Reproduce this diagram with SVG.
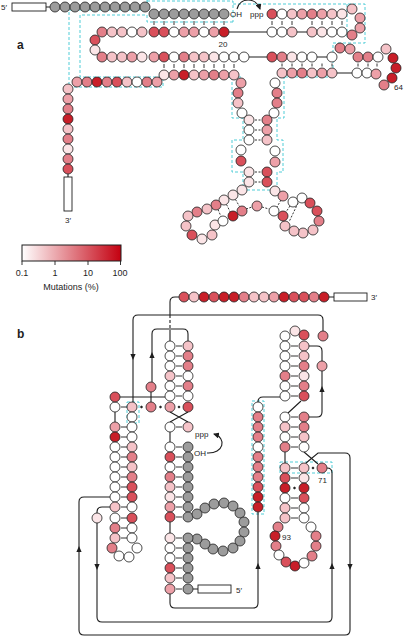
<svg xmlns="http://www.w3.org/2000/svg" width="405" height="637" viewBox="0 0 405 637">
<defs>
<style>
circle{stroke:#1e1e1e;stroke-width:.8}
.w{fill:#fff}.v{fill:#fbe5e7}.l{fill:#f5c3c8}.p{fill:#eda0a8}.m{fill:#e37f89}.d{fill:#d9505b}.r{fill:#c81e28}.g{fill:#9c9c9c}
.ln{fill:none;stroke:#1e1e1e;stroke-width:1.1}
.tk{fill:none;stroke:#1e1e1e;stroke-width:.9}
.ds{fill:none;stroke:#1e1e1e;stroke-width:.9;stroke-dasharray:2 1.5}
.cy{fill:none;stroke:#3cc7d2;stroke-width:.9;stroke-dasharray:3 2}
text{font-family:"Liberation Sans",Arial,sans-serif;fill:#1e1e1e}
.s{font-size:8px}
.lb{font-size:12px;font-weight:bold}
</style>
<linearGradient id="grad" x1="0" x2="1" y1="0" y2="0"><stop offset="0" stop-color="#fff"/><stop offset="1" stop-color="#c40010"/></linearGradient>
<marker id="arr" viewBox="0 0 6 6" refX="5" refY="3" markerWidth="6" markerHeight="6" orient="auto" markerUnits="userSpaceOnUse"><path d="M0,0L6,3L0,6Z" fill="#1e1e1e"/></marker>
<path id="ah" d="M0,0L-2.6,-6L2.6,-6Z" fill="#1e1e1e"/>
</defs>
<rect width="405" height="637" fill="#fff"/>

<!-- ================= PANEL A ================= -->
<g id="panel-a">
<text class="lb" x="17" y="49">a</text>
<g id="a-guides">
<path class="cy" d="M147,0V10H69V87H163V80"/>
<path class="cy" d="M233,22H147V15H80V77H160"/>
<path class="cy" d="M147,1H233V22"/>
<path class="cy" d="M233,4H365V43H333V77"/>
<path class="cy" d="M347,4V38"/>
<path class="cy" d="M228,77H243M280,77H333"/>
<path class="cy" d="M232,77V118H243V140H232V172H243V190H277V172H283V140H277V118H284V77"/>
</g>
<g id="a-connectors">
<path class="ln" d="M46,7H50M229,32H267M297,32H307M249,57H267M317,57H327M337,73H352M68,174V177"/>
<path class="ln" d="M237,9C240,-3 256,-3 260,9" marker-end="url(#arr)"/>
<path class="tk" d="M154,21V25M164,21V25M174,21V25M184,21V25M194,21V25M204,21V25M214,21V25M224,21V25M272,21V25M282,21V25M292,21V25M312,21V25M322,21V25M332,21V25M342,21V25"/>
<path class="tk" d="M164,64V68M174,64V68M184,64V68M194,64V68M204,64V68M214,64V68M224,64V68M234,64V68"/>
<path class="tk" d="M282,63.5V66.5M292,63.5V66.5M302,63.5V66.5M312,63.5V66.5M322,63.5V66.5M332,63.5V66.5M358,63.5V66.5M368,63.5V66.5M377,63.5V66.5"/>
<path class="ds" d="M255,120H261M255,130H261M255,140H261M255,172H261M255,182H261"/>
<path class="ds" d="M235.5,199.5L239.5,206.5M226.5,204.5L230.5,212.5M218,209.5L221,216.5M246,209L252,207M262,207L269,209M281,200L277,207M290,206L286,212M298,203L289,222"/>
</g>
<g id="a-5prime">
<text class="s" x="1" y="10">5′</text>
<rect x="12" y="3" width="34" height="8" fill="#fff" stroke="#1e1e1e" stroke-width=".9"/>
</g>
<g id="a-gray">
<circle class="g" cx="55" cy="7" r="5"/><circle class="g" cx="65" cy="7" r="5"/><circle class="g" cx="75" cy="7" r="5"/><circle class="g" cx="85" cy="7" r="5"/><circle class="g" cx="95" cy="7" r="5"/><circle class="g" cx="105" cy="7" r="5"/><circle class="g" cx="115" cy="7" r="5"/><circle class="g" cx="125" cy="7" r="5"/><circle class="g" cx="135" cy="7" r="5"/><circle class="g" cx="145" cy="7" r="5"/>
<circle class="g" cx="154" cy="14" r="5"/><circle class="g" cx="164" cy="14" r="5"/><circle class="g" cx="174" cy="14" r="5"/><circle class="g" cx="184" cy="14" r="5"/><circle class="g" cx="194" cy="14" r="5"/><circle class="g" cx="204" cy="14" r="5"/><circle class="g" cx="214" cy="14" r="5"/><circle class="g" cx="224" cy="14" r="5"/>
<text class="s" x="230" y="17">OH</text>
<text class="s" x="250" y="17">ppp</text>
</g>
<g id="a-hairpin-left">
<circle class="m" cx="102" cy="32" r="5"/><circle class="l" cx="112" cy="32" r="5"/><circle class="l" cx="122" cy="32" r="5"/><circle class="w" cx="132" cy="32" r="5"/><circle class="l" cx="142" cy="32" r="5"/><circle class="d" cx="154" cy="32" r="5"/><circle class="d" cx="164" cy="32" r="5"/><circle class="w" cx="174" cy="32" r="5"/><circle class="p" cx="184" cy="32" r="5"/><circle class="p" cx="194" cy="32" r="5"/><circle class="w" cx="204" cy="32" r="5"/><circle class="p" cx="214" cy="32" r="5"/><circle class="r" cx="224" cy="32" r="5"/>
<text class="s" x="223" y="47" text-anchor="middle">20</text>
<circle class="d" cx="95" cy="40" r="5"/><circle class="v" cx="95" cy="50" r="5"/>
<circle class="m" cx="102" cy="57" r="5"/><circle class="l" cx="112" cy="57" r="5"/><circle class="l" cx="122" cy="57" r="5"/><circle class="p" cx="132" cy="57" r="5"/><circle class="v" cx="142" cy="57" r="5"/><circle class="p" cx="154" cy="57" r="5"/><circle class="d" cx="164" cy="57" r="5"/><circle class="w" cx="174" cy="57" r="5"/><circle class="m" cx="184" cy="57" r="5"/><circle class="l" cx="194" cy="57" r="5"/><circle class="l" cx="204" cy="57" r="5"/><circle class="v" cx="214" cy="57" r="5"/><circle class="w" cx="224" cy="57" r="5"/><circle class="w" cx="234" cy="57" r="5"/><circle class="w" cx="244" cy="57" r="5"/>
</g>
<g id="a-3prime-tail">
<circle class="v" cx="164" cy="75" r="5"/><circle class="p" cx="174" cy="75" r="5"/><circle class="r" cx="184" cy="75" r="5"/><circle class="l" cx="194" cy="75" r="5"/><circle class="p" cx="204" cy="75" r="5"/><circle class="m" cx="214" cy="75" r="5"/><circle class="p" cx="224" cy="75" r="5"/><circle class="l" cx="234" cy="75" r="5"/>
<circle class="p" cx="77" cy="82" r="5"/><circle class="m" cx="87" cy="82" r="5"/><circle class="r" cx="97" cy="82" r="5"/><circle class="m" cx="107" cy="82" r="5"/><circle class="d" cx="117" cy="82" r="5"/><circle class="l" cx="127" cy="82" r="5"/><circle class="w" cx="137" cy="82" r="5"/><circle class="m" cx="147" cy="82" r="5"/><circle class="p" cx="157" cy="82" r="5"/>
<circle class="l" cx="68" cy="89" r="5"/><circle class="p" cx="68" cy="99" r="5"/><circle class="m" cx="68" cy="109" r="5"/><circle class="r" cx="68" cy="119" r="5"/><circle class="l" cx="68" cy="129" r="5"/><circle class="m" cx="68" cy="139" r="5"/><circle class="v" cx="68" cy="149" r="5"/><circle class="m" cx="68" cy="159" r="5"/><circle class="d" cx="68" cy="169" r="5"/>
<rect x="64" y="177" width="8" height="34" fill="#fff" stroke="#1e1e1e" stroke-width=".9"/>
<text class="s" x="68" y="223" text-anchor="middle">3′</text>
</g>
<g id="a-hairpin-right">
<circle class="d" cx="272" cy="14" r="5"/><circle class="w" cx="282" cy="14" r="5"/><circle class="l" cx="292" cy="14" r="5"/><circle class="p" cx="302" cy="14" r="5"/><circle class="m" cx="312" cy="14" r="5"/><circle class="p" cx="322" cy="14" r="5"/><circle class="l" cx="332" cy="14" r="5"/><circle class="v" cx="342" cy="14" r="5"/>
<circle class="l" cx="352" cy="9" r="5"/><circle class="p" cx="360" cy="18" r="5"/><circle class="p" cx="360" cy="28" r="5"/><circle class="m" cx="352" cy="35" r="5"/>
<circle class="w" cx="272" cy="32" r="5"/><circle class="w" cx="282" cy="32" r="5"/><circle class="l" cx="292" cy="32" r="5"/><circle class="l" cx="312" cy="32" r="5"/><circle class="v" cx="322" cy="32" r="5"/><circle class="w" cx="332" cy="32" r="5"/><circle class="w" cx="342" cy="32" r="5"/>
</g>
<g id="a-hairpin-64">
<circle class="d" cx="272" cy="57" r="5"/><circle class="m" cx="282" cy="57" r="5"/><circle class="v" cx="292" cy="57" r="5"/><circle class="w" cx="302" cy="57" r="5"/><circle class="w" cx="312" cy="57" r="5"/><circle class="w" cx="332" cy="57" r="5"/>
<circle class="m" cx="340" cy="48" r="5"/><circle class="p" cx="350" cy="49" r="5"/>
<circle class="m" cx="358" cy="57" r="5"/><circle class="m" cx="368" cy="57" r="5"/><circle class="w" cx="378" cy="57" r="5"/>
<circle class="l" cx="386" cy="49" r="5"/><circle class="r" cx="393" cy="58" r="5"/><circle class="r" cx="396" cy="68" r="5"/><circle class="r" cx="392" cy="78" r="5"/><circle class="m" cx="384" cy="85" r="5"/>
<text class="s" x="394" y="90">64</text>
<circle class="l" cx="282" cy="73" r="5"/><circle class="p" cx="292" cy="73" r="5"/><circle class="m" cx="302" cy="73" r="5"/><circle class="l" cx="312" cy="73" r="5"/><circle class="p" cx="322" cy="73" r="5"/><circle class="l" cx="332" cy="73" r="5"/><circle class="w" cx="357" cy="73" r="5"/><circle class="w" cx="367" cy="73" r="5"/><circle class="p" cx="376" cy="74" r="5"/>
</g>
<g id="a-stem">
<circle class="p" cx="241" cy="83" r="5"/><circle class="m" cx="238" cy="93" r="5"/><circle class="l" cx="238" cy="103" r="5"/><circle class="w" cx="242" cy="113" r="5"/>
<circle class="w" cx="275" cy="83" r="5"/><circle class="m" cx="277" cy="93" r="5"/><circle class="m" cx="277" cy="103" r="5"/><circle class="w" cx="274" cy="113" r="5"/>
<circle class="v" cx="249" cy="120" r="5"/><circle class="w" cx="249" cy="130" r="5"/><circle class="w" cx="249" cy="140" r="5"/>
<circle class="m" cx="267" cy="120" r="5"/><circle class="p" cx="267" cy="130" r="5"/><circle class="l" cx="267" cy="140" r="5"/>
<circle class="w" cx="241" cy="150" r="5"/><circle class="d" cx="241" cy="161" r="5"/>
<circle class="w" cx="275" cy="151" r="5"/><circle class="p" cx="275" cy="162" r="5"/>
<circle class="v" cx="249" cy="172" r="5"/><circle class="v" cx="249" cy="182" r="5"/>
<circle class="d" cx="267" cy="172" r="5"/><circle class="d" cx="267" cy="182" r="5"/>
</g>
<g id="a-arm-left">
<circle class="v" cx="242" cy="190" r="5"/><circle class="v" cx="233" cy="195" r="5"/><circle class="v" cx="224" cy="200" r="5"/><circle class="m" cx="216" cy="205" r="5"/><circle class="l" cx="207" cy="209" r="5"/>
<circle class="m" cx="197" cy="212" r="5"/><circle class="l" cx="188" cy="216" r="5"/><circle class="l" cx="186" cy="226" r="5"/><circle class="d" cx="192" cy="235" r="5"/><circle class="v" cx="202" cy="239" r="5"/><circle class="l" cx="212" cy="235" r="5"/>
<circle class="v" cx="215" cy="225" r="5"/><circle class="w" cx="223" cy="221" r="5"/><circle class="r" cx="233" cy="216" r="5"/><circle class="m" cx="242" cy="211" r="5"/>
<circle class="p" cx="257" cy="206" r="5"/>
</g>
<g id="a-arm-right">
<circle class="v" cx="275" cy="191" r="5"/><circle class="p" cx="283" cy="196" r="5"/><circle class="w" cx="293" cy="202" r="5"/><circle class="w" cx="302" cy="198" r="5"/>
<circle class="d" cx="310" cy="203" r="5"/><circle class="d" cx="317" cy="211" r="5"/><circle class="m" cx="319" cy="221" r="5"/><circle class="l" cx="313" cy="230" r="5"/><circle class="l" cx="303" cy="233" r="5"/><circle class="l" cx="294" cy="231" r="5"/>
<circle class="l" cx="285" cy="226" r="5"/><circle class="d" cx="283" cy="216" r="5"/><circle class="w" cx="274" cy="211" r="5"/>
</g>
<g id="a-colorbar">
<rect x="22" y="245" width="99" height="16" fill="url(#grad)" stroke="#1e1e1e" stroke-width="1"/>
<path class="tk" d="M22,261V265M55,261V265M88,261V265M120.5,261V265"/>
<text x="22" y="276" font-size="9" text-anchor="middle">0.1</text>
<text x="55" y="276" font-size="9" text-anchor="middle">1</text>
<text x="88" y="276" font-size="9" text-anchor="middle">10</text>
<text x="120" y="276" font-size="9" text-anchor="middle">100</text>
<text x="71" y="290" font-size="9" text-anchor="middle">Mutations (%)</text>
</g>
</g>

<!-- ================= PANEL B ================= -->
<g id="panel-b">
<text class="lb" x="17" y="338">b</text>
<g id="b-guides">
<rect class="cy" x="127" y="402" width="12" height="21"/>
<rect class="cy" x="252" y="401" width="12" height="113"/>
<rect class="cy" x="280" y="462" width="52" height="11"/>
</g>
<g id="b-connectors">
<path class="ln" d="M179,297H175Q170,297 170,302V315M170,333V341"/>
<path class="ln" d="M170,315V333" stroke-dasharray="3 2"/>
<path class="ln" d="M329,297H334M193,589H198"/>
<path class="ln" d="M323,331V320Q323,315 318,315H138Q133,315 133,320V402"/>
<path class="ln" d="M188,341V334Q188,329 183,329H157Q152,329 152,334V382M151,392V402"/>
<path class="ln" d="M120,397H165M115,412V422M170,412L188,422M188,412L170,422M170,432V442M170,522V533"/>
<path class="ln" d="M170,594V603Q170,608 175,608H253Q258,608 258,603V512"/>
<path class="ln" d="M110,497H84Q79,497 79,502V630Q79,635 84,635H345Q350,635 350,630V458Q350,453 345,453H318L306,463"/>
<path class="ln" d="M110,507H102Q97,507 97,512V513M97,523V617Q97,622 102,622H327Q332,622 332,617V473Q332,468 327,468"/>
<path class="ln" d="M280,397H263Q258,397 258,402M301,401L288,413M309,417H317Q322,417 322,412V371M309,346H317Q322,346 322,351V361M285,452V463M304,452L318,464"/>
<path class="ln" d="M207,453C224,454 227,438 214,434" marker-end="url(#arr)"/>
<use href="#ah" transform="translate(133,360)"/>
<use href="#ah" transform="translate(152,352) rotate(180)"/>
<use href="#ah" transform="translate(322,386) rotate(180)"/>
<use href="#ah" transform="translate(97,570)"/>
<use href="#ah" transform="translate(79,546) rotate(180)"/>
<use href="#ah" transform="translate(332,563) rotate(180)"/>
<use href="#ah" transform="translate(350,570)"/>
<use href="#ah" transform="translate(258,563) rotate(180)"/>
<path class="tk" d="M121,407H127M121,427H127M121,437H127M121,447H127M121,457H127M121,467H127M121,477H127M121,487H127M121,497H127M121,507H127M121,518H127M121,528H127M121,538H127"/>
<path class="tk" d="M176,346H182M176,356H182M176,366H182M176,376H182M176,386H182M176,396H182M176,427H182M176,447H182M176,457H182M176,467H182M176,477H182M176,487H182M176,497H182M176,507H182M176,517H182M176,538H182M176,548H182M176,558H182M176,568H182M176,578H182M176,589H182"/>
<path class="tk" d="M291,346H298M291,356H298M291,366H298M291,376H298M291,386H298M291,396H298M291,417H298M291,427H298M291,437H298M291,447H298M291,468H298M291,478H298M291,498H298M291,508H298M291,518H298"/>
<g fill="#1e1e1e"><circle cx="141.5" cy="407" r=".9" stroke="none"/><circle cx="160.5" cy="407" r=".9" stroke="none"/><circle cx="179" cy="407" r=".9" stroke="none"/><circle cx="313" cy="468" r=".9" stroke="none"/><circle cx="294.5" cy="488" r=".9" stroke="none"/></g>
</g>
<g id="b-3prime-strand">
<circle class="d" cx="184" cy="297" r="5"/><circle class="l" cx="194" cy="297" r="5"/><circle class="r" cx="204" cy="297" r="5"/><circle class="d" cx="214" cy="297" r="5"/><circle class="r" cx="224" cy="297" r="5"/><circle class="r" cx="234" cy="297" r="5"/><circle class="m" cx="244" cy="297" r="5"/><circle class="l" cx="254" cy="297" r="5"/><circle class="l" cx="264" cy="297" r="5"/><circle class="p" cx="274" cy="297" r="5"/><circle class="r" cx="284" cy="297" r="5"/><circle class="d" cx="294" cy="297" r="5"/><circle class="d" cx="304" cy="297" r="5"/><circle class="m" cx="314" cy="297" r="5"/><circle class="r" cx="324" cy="297" r="5"/>
<rect x="334" y="293" width="33" height="8" fill="#fff" stroke="#1e1e1e" stroke-width=".9"/>
<text class="s" x="371" y="300">3′</text>
</g>
<g id="b-central-stem">
<circle class="w" cx="170" cy="346" r="5"/><circle class="w" cx="170" cy="356" r="5"/><circle class="w" cx="170" cy="366" r="5"/><circle class="l" cx="170" cy="376" r="5"/><circle class="w" cx="170" cy="386" r="5"/><circle class="w" cx="170" cy="396" r="5"/>
<circle class="l" cx="188" cy="346" r="5"/><circle class="m" cx="188" cy="356" r="5"/><circle class="m" cx="188" cy="366" r="5"/><circle class="w" cx="188" cy="376" r="5"/><circle class="m" cx="188" cy="386" r="5"/><circle class="w" cx="188" cy="396" r="5"/>
<circle class="w" cx="115" cy="407" r="5"/><circle class="l" cx="132" cy="407" r="5"/><circle class="m" cx="151" cy="407" r="5"/><circle class="p" cx="170" cy="407" r="5"/><circle class="d" cx="188" cy="407" r="5"/>
<circle class="d" cx="115" cy="397" r="5"/><circle class="m" cx="151" cy="387" r="5"/>
<circle class="w" cx="170" cy="427" r="5"/><circle class="l" cx="188" cy="427" r="5"/>
<text class="s" x="195" y="437">ppp</text>
<circle class="w" cx="170" cy="447" r="5"/><circle class="g" cx="188" cy="447" r="5"/>
<text class="s" x="194" y="456">OH</text>
<circle class="d" cx="170" cy="457" r="5"/><circle class="w" cx="170" cy="467" r="5"/><circle class="m" cx="170" cy="477" r="5"/><circle class="l" cx="170" cy="487" r="5"/><circle class="v" cx="170" cy="497" r="5"/><circle class="p" cx="170" cy="507" r="5"/><circle class="d" cx="170" cy="517" r="5"/>
<circle class="g" cx="188" cy="457" r="5"/><circle class="g" cx="188" cy="467" r="5"/><circle class="g" cx="188" cy="477" r="5"/><circle class="g" cx="188" cy="487" r="5"/><circle class="g" cx="188" cy="497" r="5"/><circle class="g" cx="188" cy="507" r="5"/><circle class="g" cx="188" cy="517" r="5"/>
<circle class="g" cx="197" cy="514" r="5"/><circle class="g" cx="205" cy="508" r="5"/><circle class="g" cx="214" cy="504" r="5"/><circle class="g" cx="224" cy="503" r="5"/><circle class="g" cx="233" cy="506" r="5"/><circle class="g" cx="240" cy="513" r="5"/><circle class="g" cx="244" cy="522" r="5"/><circle class="g" cx="244" cy="532" r="5"/><circle class="g" cx="240" cy="541" r="5"/><circle class="g" cx="233" cy="548" r="5"/><circle class="g" cx="223" cy="551" r="5"/><circle class="g" cx="213" cy="549" r="5"/><circle class="g" cx="205" cy="544" r="5"/><circle class="g" cx="197" cy="539" r="5"/>
<circle class="v" cx="170" cy="538" r="5"/><circle class="w" cx="170" cy="548" r="5"/><circle class="w" cx="170" cy="558" r="5"/><circle class="d" cx="170" cy="568" r="5"/><circle class="l" cx="170" cy="578" r="5"/><circle class="p" cx="170" cy="589" r="5"/>
<circle class="g" cx="188" cy="538" r="5"/><circle class="g" cx="188" cy="548" r="5"/><circle class="g" cx="188" cy="558" r="5"/><circle class="g" cx="188" cy="568" r="5"/><circle class="g" cx="188" cy="578" r="5"/><circle class="g" cx="188" cy="589" r="5"/>
<rect x="198" y="585" width="33" height="8" fill="#fff" stroke="#1e1e1e" stroke-width=".9"/>
<text class="s" x="236" y="593">5′</text>
</g>
<g id="b-left-stem">
<circle class="p" cx="115" cy="427" r="5"/><circle class="r" cx="115" cy="437" r="5"/><circle class="w" cx="115" cy="447" r="5"/><circle class="w" cx="115" cy="457" r="5"/><circle class="w" cx="115" cy="467" r="5"/><circle class="w" cx="115" cy="477" r="5"/><circle class="w" cx="115" cy="487" r="5"/><circle class="w" cx="115" cy="497" r="5"/>
<circle class="w" cx="132" cy="417" r="5"/><circle class="w" cx="132" cy="427" r="5"/><circle class="w" cx="132" cy="437" r="5"/><circle class="l" cx="132" cy="447" r="5"/><circle class="m" cx="132" cy="457" r="5"/><circle class="l" cx="132" cy="467" r="5"/><circle class="m" cx="132" cy="477" r="5"/><circle class="d" cx="132" cy="487" r="5"/><circle class="d" cx="132" cy="497" r="5"/>
</g>
<g id="b-left-hairpin">
<circle class="v" cx="97" cy="518" r="5"/>
<circle class="l" cx="115" cy="507" r="5"/><circle class="w" cx="115" cy="518" r="5"/><circle class="m" cx="115" cy="528" r="5"/><circle class="l" cx="115" cy="538" r="5"/><circle class="m" cx="112" cy="548" r="5"/>
<circle class="w" cx="132" cy="507" r="5"/><circle class="d" cx="132" cy="518" r="5"/><circle class="w" cx="132" cy="528" r="5"/><circle class="w" cx="132" cy="538" r="5"/>
<circle class="w" cx="119" cy="556" r="5"/><circle class="w" cx="129" cy="557" r="5"/><circle class="w" cx="137" cy="548" r="5"/>
</g>
<g id="b-right-structure">
<circle class="w" cx="285" cy="336" r="5"/><circle class="v" cx="295" cy="331" r="5"/><circle class="d" cx="304" cy="335" r="5"/><circle class="m" cx="323" cy="336" r="5"/>
<circle class="w" cx="285" cy="346" r="5"/><circle class="w" cx="285" cy="356" r="5"/><circle class="w" cx="285" cy="366" r="5"/><circle class="m" cx="285" cy="376" r="5"/><circle class="w" cx="285" cy="386" r="5"/><circle class="w" cx="285" cy="396" r="5"/>
<circle class="l" cx="304" cy="346" r="5"/><circle class="l" cx="304" cy="356" r="5"/><circle class="m" cx="304" cy="366" r="5"/><circle class="v" cx="304" cy="376" r="5"/><circle class="m" cx="304" cy="386" r="5"/><circle class="d" cx="304" cy="396" r="5"/>
<circle class="p" cx="322" cy="366" r="5"/>
<circle class="w" cx="285" cy="417" r="5"/><circle class="l" cx="285" cy="427" r="5"/><circle class="w" cx="285" cy="437" r="5"/><circle class="m" cx="285" cy="447" r="5"/>
<circle class="m" cx="304" cy="417" r="5"/><circle class="m" cx="304" cy="427" r="5"/><circle class="l" cx="304" cy="437" r="5"/><circle class="w" cx="304" cy="447" r="5"/>
<circle class="w" cx="258" cy="407" r="5"/><circle class="m" cx="258" cy="417" r="5"/><circle class="m" cx="258" cy="427" r="5"/><circle class="m" cx="258" cy="437" r="5"/><circle class="w" cx="258" cy="447" r="5"/><circle class="m" cx="258" cy="457" r="5"/><circle class="m" cx="258" cy="467" r="5"/><circle class="m" cx="258" cy="477" r="5"/><circle class="d" cx="258" cy="487" r="5"/><circle class="r" cx="258" cy="497" r="5"/><circle class="r" cx="258" cy="507" r="5"/>
<circle class="l" cx="285" cy="468" r="5"/><circle class="d" cx="285" cy="478" r="5"/><circle class="r" cx="285" cy="488" r="5"/><circle class="w" cx="285" cy="498" r="5"/><circle class="l" cx="285" cy="508" r="5"/><circle class="l" cx="285" cy="518" r="5"/>
<circle class="l" cx="304" cy="468" r="5"/><circle class="v" cx="304" cy="478" r="5"/><circle class="r" cx="304" cy="488" r="5"/><circle class="d" cx="304" cy="498" r="5"/><circle class="w" cx="304" cy="508" r="5"/><circle class="w" cx="304" cy="518" r="5"/>
<circle class="m" cx="322" cy="468" r="5"/>
<text class="s" x="318" y="483">71</text>
<circle class="m" cx="278" cy="527" r="5"/><circle class="r" cx="275" cy="536" r="5"/><circle class="m" cx="276" cy="546" r="5"/><circle class="w" cx="279" cy="555" r="5"/><circle class="d" cx="286" cy="562" r="5"/><circle class="r" cx="295" cy="566" r="5"/><circle class="w" cx="304" cy="563" r="5"/><circle class="m" cx="312" cy="556" r="5"/><circle class="m" cx="316" cy="546" r="5"/><circle class="m" cx="316" cy="536" r="5"/><circle class="w" cx="311" cy="527" r="5"/>
<text class="s" x="282" y="540">93</text>
</g>
</g>
</svg>
